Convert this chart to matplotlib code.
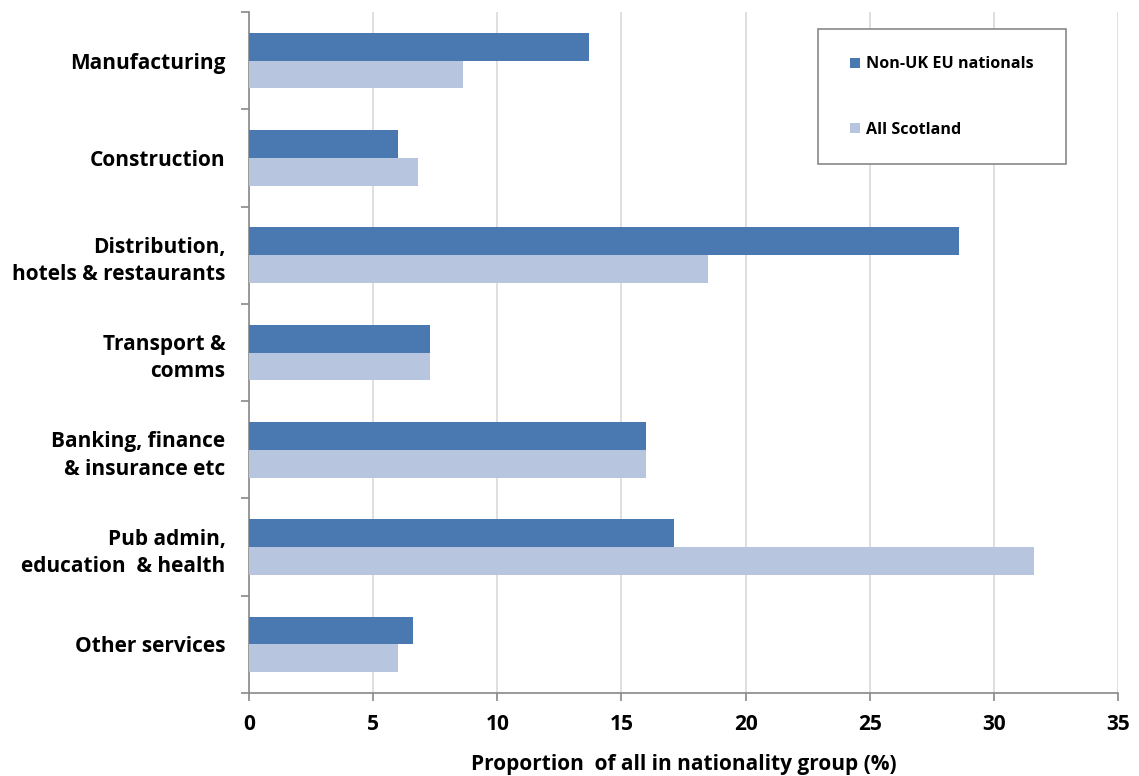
import matplotlib
matplotlib.use("Agg")
import matplotlib.pyplot as plt
import numpy as np
from matplotlib.patches import Rectangle

categories = ["Manufacturing", "Construction", "Distribution,\nhotels & restaurants",
              "Transport &\ncomms", "Banking, finance\n& insurance etc",
              "Pub admin,\neducation  & health", "Other services"]
non_uk_eu = [13.7, 6.0, 28.6, 7.3, 16.0, 17.1, 6.6]
all_scotland = [8.6, 6.8, 18.5, 7.3, 16.0, 31.6, 6.0]
series_names = ["Non-UK EU nationals", "All Scotland"]
xticks = [0, 5, 10, 15, 20, 25, 30, 35]

plt.rcParams['font.family'] = ['Open Sans', 'DejaVu Sans']
plt.rcParams['font.weight'] = 'bold'

fig = plt.figure(figsize=(11.39, 7.76), dpi=100)
ax = fig.add_axes([249/1139, 1-693/776, (1118-249)/1139, (693-12)/776])

dark = "#4a78b0"
light = "#b7c5df"
n = len(categories)
y = np.arange(n)
h = 0.285
ax.barh(y - h/2, non_uk_eu, height=h, color=dark, label=series_names[0], zorder=3)
ax.barh(y + h/2, all_scotland, height=h, color=light, label=series_names[1], zorder=3)

ax.set_ylim(n - 0.5, -0.5)
ax.set_xlim(0, 35)
ax.set_xticks(xticks)
ax.set_xticklabels([str(t) for t in xticks], fontsize=15, fontweight='bold')
ax.set_yticks(y)
ax.set_yticklabels(categories, fontsize=15, fontweight='bold', linespacing=1.4)
ax.set_yticks(np.arange(-0.5, n, 1), minor=True)
ax.tick_params(axis='y', which='major', length=0, pad=17)
ax.tick_params(axis='y', which='minor', length=6, color="#898989", width=1.2)
ax.tick_params(axis='x', length=6, color="#898989", width=1.2, pad=9)

ax.grid(axis='x', color="#d9d9d9", linewidth=1.2, zorder=0)
for s in ['top', 'right']:
    ax.spines[s].set_visible(False)
for s in ['left', 'bottom']:
    ax.spines[s].set_color("#898989")
    ax.spines[s].set_linewidth(1.2)

ax.set_xlabel("Proportion  of all in nationality group (%)", fontsize=15, fontweight='bold', labelpad=14)

# legend box
x0, x1 = (818-249)/869, (1066-249)/869
y0, y1 = (693-164)/681, (693-29)/681
ax.add_patch(Rectangle((x0, y0), x1-x0, y1-y0, transform=ax.transAxes,
                       facecolor='white', edgecolor='#898989', linewidth=1.2, zorder=5))
leg = ax.legend(loc='upper left', bbox_to_anchor=(x0 + 0.02, y1 - 0.019), frameon=False,
                prop={'size': 11.6, 'weight': 'bold'}, handlelength=0.6, handleheight=0.6,
                handletextpad=0.4, labelspacing=3.05)
leg.set_zorder(6)

fig.savefig("out.png", dpi=100, facecolor='white')
